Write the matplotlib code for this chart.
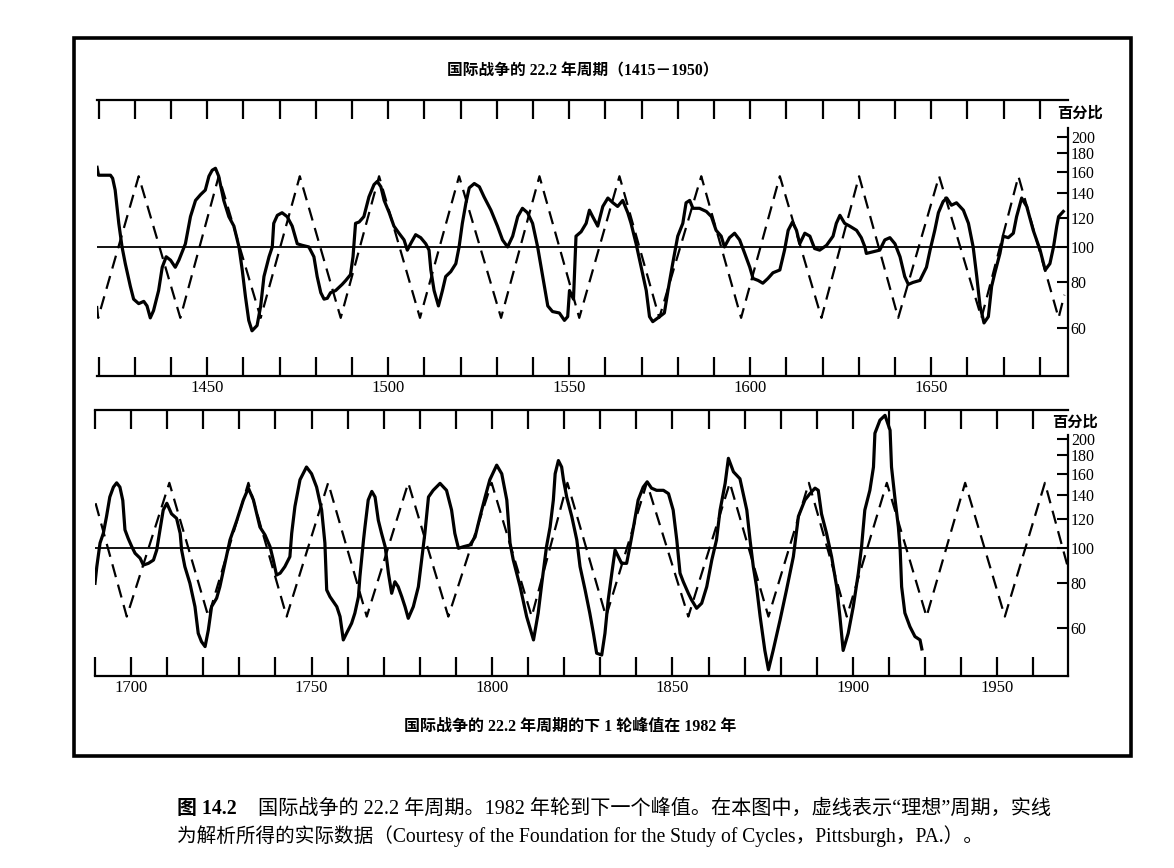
import matplotlib
matplotlib.use('Agg')
from matplotlib import pyplot as plt
from matplotlib.patches import Rectangle
from matplotlib.ticker import NullLocator, NullFormatter

# 国际战争的 22.2 年周期: 实线为实际数据, 虚线为"理想"周期 (数值读自原图)
top_years = [1419.6, 1420.0, 1423.3, 1423.9, 1424.6, 1425.6, 1426.5, 1427.4, 1428.8, 1429.7,
             1431.1, 1432.5, 1433.4, 1434.3, 1435.2, 1436.6, 1437.6, 1438.7, 1439.9, 1441.2,
             1442.2, 1444.0, 1445.4, 1446.8, 1448.2, 1449.5, 1450.5, 1451.4, 1452.3, 1453.2,
             1454.0, 1454.6, 1456.0, 1457.4, 1458.8, 1459.7, 1460.6, 1461.5, 1462.4, 1463.8,
             1464.8, 1465.7, 1467.1, 1468.0, 1468.4, 1469.4, 1470.7, 1472.1, 1473.5, 1474.9,
             1476.3, 1478.1, 1479.5, 1480.4, 1481.4, 1482.3, 1483.2, 1484.1, 1485.5, 1487.3,
             1488.3, 1489.6, 1490.3, 1491.0, 1492.0, 1493.3, 1494.7, 1496.1, 1497.0, 1498.0,
             1498.9, 1500.3, 1501.6, 1503.0, 1504.4, 1505.3, 1506.2, 1507.6, 1509.0, 1510.4,
             1511.3, 1511.8, 1512.7, 1513.9, 1515.0, 1515.9, 1517.3, 1518.7, 1519.6, 1520.5,
             1521.5, 1522.4, 1523.8, 1525.2, 1526.5, 1528.4, 1530.2, 1531.6, 1533.0, 1534.4,
             1535.8, 1537.1, 1538.5, 1539.9, 1541.3, 1542.7, 1544.1, 1545.4, 1547.3, 1548.7,
             1549.6, 1550.1, 1551.2, 1551.9, 1553.3, 1554.7, 1555.6, 1556.5, 1557.9, 1559.3,
             1560.7, 1562.1, 1563.4, 1564.8, 1566.2, 1567.1, 1568.5, 1569.9, 1571.3, 1572.2,
             1573.1, 1575.0, 1576.3, 1577.3, 1578.6, 1580.0, 1581.4, 1582.3, 1583.3, 1584.2,
             1586.0, 1587.9, 1589.3, 1590.6, 1592.0, 1592.9, 1594.3, 1595.7, 1597.1, 1598.5,
             1599.9, 1600.8, 1602.2, 1603.5, 1604.9, 1606.3, 1608.2, 1609.5, 1610.5, 1611.7,
             1612.8, 1613.7, 1615.1, 1616.5, 1617.8, 1619.2, 1621.1, 1622.9, 1623.8, 1624.8,
             1626.1, 1627.5, 1629.4, 1630.7, 1631.7, 1632.1, 1634.0, 1635.8, 1637.2, 1638.6,
             1640.0, 1641.4, 1642.7, 1643.7, 1645.0, 1646.9, 1648.7, 1649.7, 1651.0, 1652.0,
             1653.3, 1654.3, 1655.6, 1657.0, 1658.9, 1660.3, 1661.6, 1662.6, 1663.5, 1664.6,
             1665.8, 1666.7, 1667.6, 1669.0, 1669.9, 1671.3, 1672.7, 1673.6, 1675.0, 1676.4,
             1678.2, 1680.1, 1681.5, 1682.8, 1683.8, 1684.7, 1685.2, 1686.5]
top_values = [165, 157, 157, 154, 143, 116, 100, 90, 78, 72,
              70, 71, 69, 64, 67, 76, 88, 94, 92, 88,
              92, 102, 121, 134, 139, 143, 156, 162, 164, 156,
              143, 134, 121, 114, 100, 86.5, 73, 63, 59, 61,
              69, 83, 94, 100, 116, 122, 124, 121, 114, 102,
              101, 100, 94, 83, 75, 72, 72.4, 75, 76, 79,
              81, 84, 94, 116, 117, 121, 137, 148, 151, 146,
              134, 124, 114, 109, 104.5, 98, 102, 108, 106, 102,
              98, 86.5, 76, 69, 76, 83, 85.6, 90, 100, 116,
              132, 145, 149, 146, 137, 126, 114, 104.5, 100, 107,
              121, 127.5, 124, 116, 100, 83, 69, 66.6, 66, 63,
              64.5, 76, 72, 107, 110, 116, 126, 121, 114, 129,
              136, 132, 129, 134, 124, 116, 102, 88, 76, 64.5,
              62.5, 64.5, 66, 76, 90, 107, 116, 132, 134, 127.5,
              127.5, 125, 121, 111, 107, 100, 106, 109, 104.5, 96,
              88, 82, 81, 79.6, 82, 85, 86.5, 98, 111, 117,
              111, 102, 109, 107, 99, 98, 101, 107, 116, 122,
              116, 114, 111, 106, 100, 96, 97, 98, 104.5, 106,
              102, 94, 83, 79, 80, 81, 88, 98, 111, 124,
              133, 136, 130, 132, 126, 116, 100, 83, 69, 62,
              64.5, 78, 85, 96, 107, 106, 109, 121, 136, 129,
              111, 98, 86.5, 90, 100, 114, 121, 125]

top_ideal_years = [1419.6, 1419.9, 1431.1, 1442.6, 1453.2, 1464.8, 1475.6, 1486.9, 1497.5,
                   1508.8, 1519.6, 1531.2, 1541.8, 1552.8, 1563.9, 1574.9, 1586.5, 1597.5,
                   1608.2, 1619.7, 1630.1, 1640.9, 1652.2, 1663.9, 1674.1, 1685.2, 1686.8]
top_ideal_values = [69, 64, 156, 64, 156, 64, 156, 64, 156,
                    64, 156, 64, 156, 64, 156, 64, 156, 64,
                    156, 64, 156, 64, 156, 64, 156, 64, 74]

bottom_years = [1690.0, 1690.5, 1691.4, 1692.3, 1693.2, 1694.1, 1695.1, 1696.0, 1696.9, 1697.7,
                1698.3, 1699.2, 1700.2, 1701.1, 1702.5, 1703.4, 1704.8, 1706.2, 1707.1, 1708.0,
                1708.9, 1709.9, 1711.2, 1712.6, 1713.6, 1714.0, 1714.9, 1716.3, 1717.7, 1718.6,
                1719.5, 1720.5, 1721.4, 1722.3, 1723.7, 1724.6, 1726.0, 1727.4, 1729.3, 1731.1,
                1732.5, 1733.9, 1735.7, 1737.1, 1738.5, 1739.4, 1740.3, 1741.3, 1742.6, 1744.0,
                1744.5, 1745.4, 1746.8, 1748.6, 1750.0, 1751.4, 1752.8, 1753.7, 1754.2, 1755.1,
                1757.0, 1757.9, 1758.8, 1759.7, 1761.1, 1762.0, 1763.0, 1763.4, 1764.4, 1764.8,
                1765.7, 1766.7, 1767.6, 1768.5, 1769.4, 1770.4, 1771.3, 1772.2, 1773.1, 1774.0,
                1775.0, 1775.9, 1776.8, 1778.2, 1779.6, 1780.5, 1781.4, 1782.4, 1783.7, 1785.6,
                1787.4, 1788.8, 1789.7, 1790.7, 1792.1, 1793.9, 1795.3, 1796.7, 1798.1, 1799.4,
                1801.3, 1802.7, 1804.1, 1805.0, 1805.9, 1807.8, 1809.6, 1811.5, 1812.8, 1813.8,
                1815.1, 1816.1, 1817.0, 1817.5, 1818.4, 1819.3, 1819.8, 1820.7, 1822.1, 1823.5,
                1824.4, 1825.8, 1827.1, 1828.1, 1829.0, 1830.4, 1831.3, 1832.2, 1833.2, 1834.1,
                1835.0, 1835.9, 1837.3, 1838.2, 1839.2, 1840.5, 1841.9, 1843.0, 1844.2, 1845.6,
                1847.5, 1848.9, 1850.2, 1851.2, 1852.1, 1853.0, 1854.4, 1855.3, 1856.7, 1858.1,
                1859.5, 1860.9, 1862.2, 1863.2, 1864.6, 1865.5, 1866.9, 1868.7, 1870.6, 1871.5,
                1872.4, 1873.3, 1874.3, 1875.6, 1876.6, 1877.9, 1879.8, 1881.6, 1883.5, 1884.9,
                1886.7, 1888.1, 1889.5, 1890.4, 1891.3, 1892.7, 1894.1, 1895.5, 1896.4, 1897.3,
                1898.7, 1900.1, 1901.5, 1902.4, 1903.3, 1904.7, 1905.7, 1906.1, 1907.5, 1908.9,
                1910.3, 1910.7, 1911.7, 1912.6, 1913.1, 1913.5, 1914.4, 1915.8, 1917.2, 1918.6,
                1919.1]
bottom_values = [79.7, 88.6, 103, 109.5, 122, 138, 147, 151, 147, 135,
                 112, 106, 100.6, 96.5, 93.5, 89.5, 90.5, 92.4, 98.5, 112,
                 127, 132.6, 124, 120.5, 109.5, 98.5, 88.6, 79.7, 68.7, 58,
                 55, 53.3, 59.2, 68.7, 72.5, 78, 90.5, 105, 119, 135.4,
                 146, 135.4, 114, 108.4, 100.6, 92.4, 84, 85, 88.6, 94.4,
                 109.5, 130, 154, 167, 160, 147, 127, 103, 76.4, 73.2,
                 68.7, 64.5, 55.6, 58, 61.8, 65.9, 73.2, 83.2, 105, 114,
                 135.4, 143, 138, 119, 109.5, 100.6, 85, 74.8, 80.5, 78,
                 73.2, 68.7, 63.8, 68.7, 78, 92.4, 109.5, 138, 144, 150.5,
                 144, 127, 109.5, 99.6, 100.6, 101.7, 107, 122, 138, 154,
                 169, 160, 135.4, 103, 92.4, 78, 64.5, 55.6, 66, 79.7,
                 100.6, 114, 135.4, 160, 174, 167, 154, 138, 122, 105,
                 88.6, 76.4, 65.9, 58, 51.1, 50.5, 58, 71.7, 85, 98.5,
                 94.4, 90.5, 90.5, 100.6, 114, 135.4, 147, 152, 146, 144,
                 144, 141, 127, 105, 85, 80.5, 74.8, 71.7, 68, 70.2,
                 78, 92.4, 105, 127, 150.5, 176.5, 162, 155, 127, 105,
                 88.6, 78, 64.5, 52, 46, 52, 63, 76.4, 94.4, 122,
                 135.4, 141, 146, 144, 124, 109.5, 94.4, 78, 64.5, 52,
                 58, 68.7, 85, 100.6, 127, 144, 167, 207, 225, 232,
                 211, 167, 135.4, 114, 98.5, 78, 66, 60.5, 56.8, 55.6,
                 52.5]

bottom_ideal_years = [1688.6, 1698.8, 1710.6, 1721.4, 1732.5, 1743.1, 1754.6, 1765.3, 1776.8,
                      1787.9, 1799.9, 1811.0, 1820.9, 1831.6, 1842.9, 1854.4, 1865.9, 1876.6,
                      1887.8, 1898.3, 1909.4, 1920.4, 1931.1, 1942.1, 1953.2, 1959.6]
bottom_ideal_values = [151, 64.5, 151, 64.5, 151, 64.5, 151, 64.5, 151,
                       64.5, 151, 64.5, 151, 64.5, 151, 64.5, 151, 64.5,
                       151, 64.5, 151, 64.5, 151, 64.5, 151, 88]

pct_ticks = [60, 80, 100, 120, 140, 160, 180, 200]
top_label_years = [1450, 1500, 1550, 1600, 1650]
top_labels = ['1450', '1500', '1550', '1600', '1650']
# 原图中 "1950" 印在 1940 的刻度上
bottom_label_years = [1700, 1750, 1800, 1850, 1900, 1940]
bottom_labels = ['1700', '1750', '1800', '1850', '1900', '1950']

W, H = 1174, 868
serif = ['Liberation Serif', 'Noto Sans CJK SC']
cjk = ['Noto Sans CJK SC', 'Liberation Serif']

fig = plt.figure(figsize=(W / 100, H / 100), dpi=100)


def frac(x0, y0, x1, y1):
    return [x0 / W, 1 - y1 / H, (x1 - x0) / W, (y1 - y0) / H]


def panel(rect, xlim, ylim, years, values, ideal_years, ideal_values,
          label_years, labels, spine_top):
    ax = fig.add_axes(rect)
    ax.set_yscale('log')
    ax.plot(ideal_years, ideal_values, color='black', lw=1.6, ls=(0, (6, 3.5)))
    ax.plot(years, values, color='black', lw=2.3, solid_joinstyle='round')
    ax.axhline(100, color='black', lw=1.3)
    ax.set_xlim(*xlim)
    ax.set_ylim(*ylim)

    ax.spines['left'].set_visible(False)
    for s in ['top', 'bottom', 'right']:
        ax.spines[s].set_linewidth(1.6)
    ax.spines['right'].set_bounds(ylim[0], spine_top)

    decade = 10
    first = int(xlim[0] // decade + 1) * decade if xlim[0] % decade > 0.6 else int(round(xlim[0]))
    ax.set_xticks(list(range(first, int(xlim[1]), decade)), minor=True)
    ax.set_xticks(label_years)
    ax.set_xticklabels(labels, family=serif, fontsize=12)
    ax.tick_params(axis='x', which='both', direction='in', top=True, bottom=True,
                   length=14, width=1.6, pad=3)

    ax.yaxis.tick_right()
    ax.yaxis.set_minor_locator(NullLocator())
    ax.yaxis.set_minor_formatter(NullFormatter())
    ax.set_yticks(pct_ticks)
    ax.set_yticklabels([str(v) for v in pct_ticks], family=serif, fontsize=11.5)
    ax.tick_params(axis='y', which='major', direction='in', right=True, left=False,
                   length=8, width=1.5, pad=2)
    return ax


panel(frac(96.7, 100, 1068, 376), (1419.5, 1687.8), (44.4, 252),
      top_years, top_values, top_ideal_years, top_ideal_values,
      top_label_years, top_labels, 211)
panel(frac(95, 410, 1068, 676), (1690, 1959.6), (44.2, 240),
      bottom_years, bottom_values, bottom_ideal_years, bottom_ideal_values,
      bottom_label_years, bottom_labels, 205)

fig.text(1080 / W, 1 - 113 / H, '百分比', family=cjk, fontsize=11, weight='bold',
         ha='center', va='center')
fig.text(1075 / W, 1 - 422 / H, '百分比', family=cjk, fontsize=11, weight='bold',
         ha='center', va='center')

fig.text(583 / W, 1 - 71 / H, '国际战争的 22.2 年周期（1415－1950）', family=serif,
         fontsize=11.3, weight='bold', ha='center', va='center')
fig.text(570 / W, 1 - 727 / H, '国际战争的 22.2 年周期的下 1 轮峰值在 1982 年', family=serif,
         fontsize=11.5, weight='bold', ha='center', va='center')

# 外框
fig.patches.append(Rectangle((74 / W, 1 - 756 / H), (1131 - 74) / W, (756 - 38) / H,
                             transform=fig.transFigure, fill=False, lw=2.6,
                             edgecolor='black'))

# 图注
fig.text(176.7 / W, 1 - 809 / H, '图 14.2', family=serif, fontsize=14.3, weight='bold',
         ha='left', va='center')
fig.text(258 / W, 1 - 809 / H,
         '国际战争的 22.2 年周期。1982 年轮到下一个峰值。在本图中，虚线表示“理想”周期，实线',
         family=serif, fontsize=14.5, ha='left', va='center')
fig.text(176.7 / W, 1 - 836 / H,
         '为解析所得的实际数据（Courtesy of the Foundation for the Study of Cycles，Pittsburgh，PA.）。',
         family=serif, fontsize=14.1, ha='left', va='center')

fig.savefig('out.png', dpi=100)
